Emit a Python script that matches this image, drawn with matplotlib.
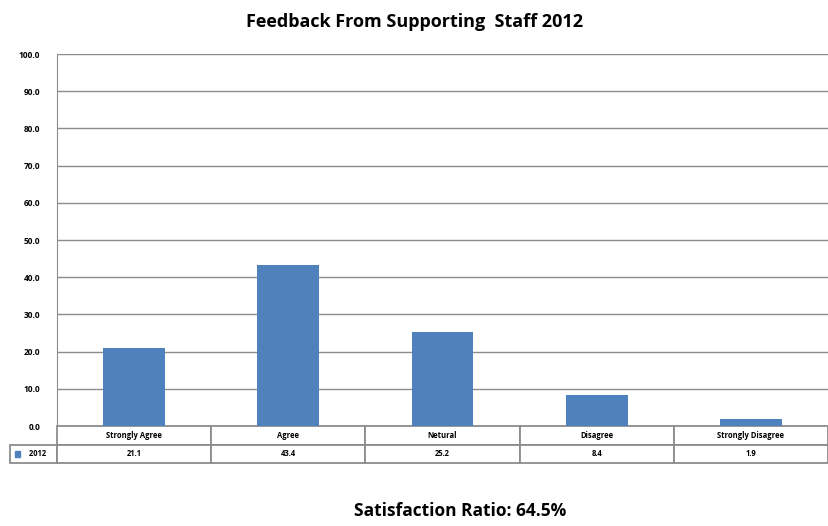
import matplotlib.pyplot as plt
from matplotlib.patches import Rectangle

categories = ['Strongly Agree', 'Agree', 'Netural', 'Disagree', 'Strongly Disagree']
values_2012 = [21.1, 43.4, 25.2, 8.4, 1.9]
series_name = '2012'
yticks = [0, 10, 20, 30, 40, 50, 60, 70, 80, 90, 100]

bar_color = '#4f81bd'
line_color = '#8c8c8c'
plt.rcParams['font.family'] = ['Open Sans', 'DejaVu Sans']

fig = plt.figure(figsize=(8.29, 5.26), dpi=100)
ax = fig.add_axes([57 / 829, 1 - 426 / 526, 771 / 829, 372 / 526])

x = range(len(categories))
ax.bar(x, values_2012, width=0.4, color=bar_color, zorder=3)
ax.set_xlim(-0.5, len(categories) - 0.5)
ax.set_ylim(0, 100)
ax.set_yticks(yticks)
ax.set_yticklabels([f'{v:.1f}' for v in yticks], fontsize=6, fontweight='bold')
ax.set_xticks([])
ax.tick_params(axis='y', length=0, pad=12)
ax.grid(axis='y', color=line_color, lw=1, zorder=0)
for side in ['top', 'right', 'bottom']:
    ax.spines[side].set_visible(False)
ax.spines['left'].set_color(line_color)

# data table under the plot
label_w = 47 / 771
col_w = 1 / len(categories)
widths = [label_w] + [col_w] * len(categories)
cell_text = [[''] + categories, [series_name] + [f'{v:.1f}' for v in values_2012]]
tbl = ax.table(cellText=cell_text, colWidths=widths, cellLoc='center',
               bbox=[-label_w, -37 / 372, 1 + label_w, 37 / 372])
tbl.auto_set_font_size(False)
for (r, c), cell in tbl.get_celld().items():
    cell.set_edgecolor(line_color)
    cell.set_linewidth(1.3)
    cell.get_text().set_fontsize(5.5)
    cell.get_text().set_fontweight('bold')
    if r == 0 and c == 0:
        cell.visible_edges = ''
tbl[1, 0].get_text().set_text('    ' + series_name)
ax.add_patch(Rectangle((-label_w + 5 / 771, -31 / 372), 5 / 771, 6 / 372,
                       transform=ax.transAxes, color=bar_color, clip_on=False))

fig.text(0.5, 1 - 22 / 526, 'Feedback From Supporting  Staff 2012',
         ha='center', va='center', fontsize=13, fontweight='bold')
fig.text(0.555, 1 - 511 / 526, 'Satisfaction Ratio: 64.5%',
         ha='center', va='center', fontsize=12.5, fontweight='bold')

fig.savefig('out.png', dpi=100)
